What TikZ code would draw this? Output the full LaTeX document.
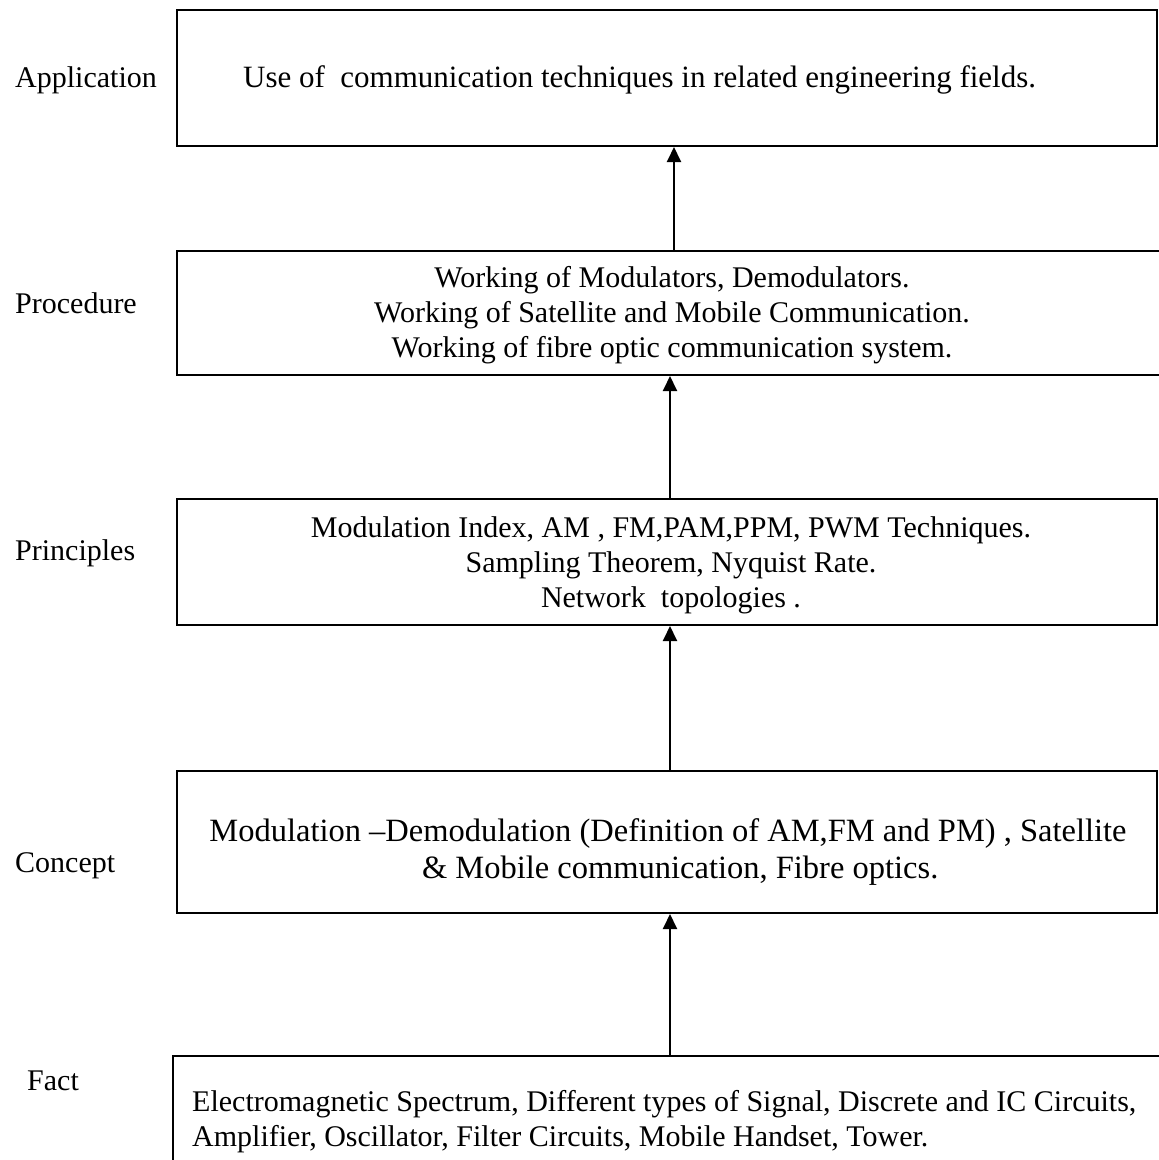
\documentclass[tikz,border=0pt]{standalone}
\usepackage{fontspec}
\setmainfont{Liberation Serif}
\usetikzlibrary{arrows.meta}
\begin{document}
\begin{tikzpicture}[x=1pt,y=-1pt,
  box/.style={draw=black,line width=2pt,minimum width=#1,inner sep=0pt,fill=none},
  lbl/.style={anchor=base west,inner sep=0pt,font=\fontsize{30}{35}\selectfont},
  txt/.style={align=center,inner sep=0pt,font=\fontsize{30}{35}\selectfont},
  arr/.style={line width=2pt,-{Triangle[length=15pt,width=14pt]}}]
\clip (0,0) rectangle (1159,1160);
\fill[white] (0,0) rectangle (1159,1160);
% boxes
\node[box=980pt,minimum height=136pt] (app) at (667,78) {};
\node[box=993pt,minimum height=124pt] (proc) at (673.5,313) {};
\node[box=980pt,minimum height=126pt] (prin) at (667,562) {};
\node[box=980pt,minimum height=142pt] (conc) at (667,842) {};
\node[box=997pt,minimum height=119pt] (fact) at (671.5,1115.5) {};
% left labels
\node[lbl] (lapp) at (15,87) {Application};
\node[lbl] (lproc) at (15,313) {Procedure};
\node[lbl] (lprin) at (15,560) {Principles};
\node[lbl] (lconc) at (15,872) {Concept};
\node[lbl] (lfact) at (27,1090) {Fact};
% box texts
\node[lbl,font=\fontsize{31}{36}\selectfont] (tapp) at (243,87) {Use of\ \ communication techniques in related engineering fields.};
\node[txt] (tproc) at (672,315) {Working of Modulators, Demodulators.\\Working of Satellite and Mobile Communication.\\Working of fibre optic communication system.};
\node[txt] (tprin) at (671,565) {Modulation Index, AM , FM,PAM,PPM, PWM Techniques.\\Sampling Theorem, Nyquist Rate.\\Network\ \ topologies .};
\node[txt,font=\fontsize{32.5}{37}\selectfont] (tconc) at (668,852) {Modulation \textendash Demodulation (Definition of AM,FM and PM) , Satellite\\\ \ \ \& Mobile communication, Fibre optics.};
\node[txt,align=left,anchor=west] (tfact) at (192,1122) {Electromagnetic Spectrum, Different types of Signal, Discrete and IC Circuits,\\Amplifier, Oscillator, Filter Circuits, Mobile Handset, Tower.};
% arrows
\coordinate (a1) at (674,0);
\coordinate (a2) at (670,0);
\draw[arr] (proc.north -| a1) -- (app.south -| a1);
\draw[arr] (prin.north -| a2) -- (proc.south -| a2);
\draw[arr] (conc.north -| a2) -- (prin.south -| a2);
\draw[arr] (fact.north -| a2) -- (conc.south -| a2);
\end{tikzpicture}
\end{document}
